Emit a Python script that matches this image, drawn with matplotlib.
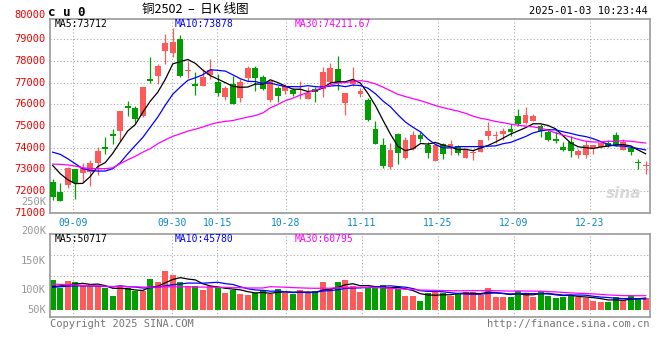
import numpy as np
import pandas as pd
import matplotlib
matplotlib.use("Agg")
import matplotlib.pyplot as plt

# ---- daily candles, cu0 (80 sessions, 2024-09-04 .. 2025-01-03) ----
opens = [72400, 71950, 72290, 73030, 72840, 72870, 73300, 74030, 74640, 74760,
         75930, 75820, 75450, 77150, 77320, 78460, 78350, 78990, 77520, 76940,
         76830, 77350, 77020, 76330, 76940, 76290, 77200, 77660, 77250, 76200,
         76760, 76600, 76680, 76650, 76250, 76710, 76710, 77020, 77610, 76050,
         76940, 76480, 76200, 74850, 74120, 73120, 74620, 73520, 73930, 74580,
         74130, 73380, 74160, 74030, 74070, 73530, 73750, 73810, 74520, 74520,
         74610, 74850, 75450, 75130, 75220, 74990, 74720, 74420, 74030, 74240,
         73670, 73670, 73990, 74030, 74210, 74560, 73900, 73980, 73320, 73150]
highs = [72540, 72370, 73100, 73030, 73290, 73410, 74030, 74490, 74870, 75680,
         76140, 75910, 76790, 78170, 77860, 79240, 79500, 79180, 77980, 77480,
         77630, 78070, 77400, 76860, 77320, 77170, 77770, 77780, 77350, 77090,
         76860, 76940, 76760, 77050, 76790, 76790, 77710, 77890, 78210, 76510,
         77740, 76740, 76280, 75210, 74440, 74210, 74670, 74490, 74790, 74720,
         74240, 74180, 74220, 74360, 74130, 73930, 73920, 74330, 75160, 74790,
         74910, 75100, 75770, 75870, 75560, 75070, 74870, 74790, 74260, 74550,
         73950, 74300, 74100, 74240, 74330, 74720, 74390, 74060, 73490, 73380]
lows = [71600, 71530, 72140, 71650, 72410, 72230, 72720, 73720, 74180, 74300,
        75440, 75130, 75410, 77000, 76940, 77860, 78200, 77250, 77200, 76430,
        76830, 77170, 76400, 76200, 75990, 76110, 77090, 76630, 76680, 76100,
        76100, 76480, 76360, 76250, 76250, 76100, 76330, 76940, 76660, 75510,
        76860, 76330, 75220, 74160, 73070, 73010, 73260, 73490, 73900, 74260,
        73530, 73380, 73490, 73640, 73670, 73500, 73440, 73790, 74330, 74210,
        74330, 74520, 74990, 75070, 75220, 74490, 74300, 74210, 73840, 73560,
        73530, 73520, 73720, 73990, 74030, 74060, 73900, 73640, 73030, 72770]
closes = [71720, 71530, 73060, 72380, 73070, 73300, 73840, 73960, 74520, 75680,
          75850, 75300, 76790, 77090, 77750, 78810, 78870, 77310, 77580, 76860,
          77250, 77600, 76510, 76760, 76020, 77020, 77660, 77200, 76710, 77050,
          76370, 76860, 76480, 76710, 76510, 76560, 77480, 77660, 76970, 76510,
          77120, 76600, 75280, 74160, 73170, 73890, 73760, 74330, 74580, 74390,
          73760, 74130, 73720, 74160, 73760, 73870, 73780, 74330, 74760, 74550,
          74760, 74720, 75070, 75500, 75450, 74760, 74330, 74300, 73870, 73840,
          73860, 74130, 74100, 74210, 74060, 74100, 74240, 73790, 73270, 73180]
# volume in K lots (as read on the panel's own scale)
volumes = [117.8, 105.3, 116.2, 114.0, 108.3, 108.3, 108.3, 103.7, 91.7, 107.8,
           104.0, 98.7, 99.5, 119.5, 115.0, 133.2, 126.2, 115.0, 107.8, 107.8,
           101.2, 107.8, 106.7, 96.7, 101.2, 94.5, 92.8, 95.7, 101.2, 94.0,
           102.8, 95.7, 94.0, 101.2, 95.7, 99.5, 115.0, 102.3, 115.0, 117.8,
           107.8, 98.3, 104.0, 105.7, 109.5, 105.7, 102.8, 91.7, 91.7, 82.8,
           95.7, 100.0, 95.7, 91.7, 94.0, 98.3, 98.3, 92.8, 105.0, 90.0,
           90.0, 90.0, 100.0, 95.7, 90.0, 100.0, 91.7, 88.3, 90.0, 92.8,
           89.0, 87.3, 83.3, 81.7, 81.7, 89.0, 84.5, 91.7, 85.7, 87.3]
vol_base = 67.0

# moving-average values before enough history is on screen
ma5_head = [73180, 72800, 72520, 72340]
ma10_head = [73790, 73690, 73490, 73260, 73030, 72950, 72920, 72920, 73030]
ma30_head = [73240, 73230, 73200, 73150, 73070, 73040, 73030, 73030, 73070, 73260,
             73440, 73600, 73790, 73950, 74180, 74360, 74520, 74640, 74760, 74850,
             74950, 75070, 75160, 75210, 75250, 75330, 75410, 75480, 75600]
vma5_head = [107, 108, 110, 111]
vma10_head = [105.5, 106.5, 107.5, 108, 108, 108, 107.5, 107, 106.5]
vma30_head = [111, 110.5, 110, 109.5, 109, 108.5, 108, 107.5, 107, 107,
              106.5, 106.5, 106, 106, 106, 106.5, 106.5, 106.5, 106.5, 106,
              106, 106, 105.5, 105.5, 105, 105, 104.5, 104.5, 104.5]

date_ticks = [2.66, 15.85, 21.93, 31.04, 41.17, 51.29, 61.42, 71.54]
date_labels = ['09-09', '09-30', '10-15', '10-28', '11-11', '11-25', '12-09', '12-23']
price_ticks = [71000, 72000, 73000, 74000, 75000, 76000, 77000, 78000, 79000]


def moving_avg(vals, n, head):
    s = pd.Series(vals, dtype=float).rolling(n).mean().to_numpy()
    s[:len(head)] = head
    return s


W, H = 660, 360
UP, DOWN = '#ff5a5a', '#009e00'
GRID = '#aaaaaa'
FRAME = '#999999'
MONO = 'DejaVu Sans Mono'

fig = plt.figure(figsize=(W / 100, H / 100), dpi=100)
fig.patch.set_facecolor('white')


def ftext(x, y, s, **kw):
    kw.setdefault('family', MONO)
    kw.setdefault('fontsize', 7)
    kw.setdefault('va', 'center')
    fig.text(x / W, 1 - y / H, s, **kw)


def frame(ax):
    for sp in ax.spines.values():
        sp.set_color(FRAME)
        sp.set_linewidth(1.2)
    ax.tick_params(length=0)


x = np.arange(len(closes))
o = np.array(opens); c = np.array(closes)
hi = np.array(highs); lo = np.array(lows)
colors = np.where(c >= o, UP, DOWN)

# ---- price panel ----
ax = fig.add_axes([50 / W, 1 - 212.7 / H, 600 / W, (212.7 - 18.5) / H])
frame(ax)
ax.set_xlim(-0.36, 79.58)
ax.set_ylim(71000, 79954)
ax.set_yticks(price_ticks)
ax.set_yticklabels([])
ax.set_xticks(date_ticks)
ax.set_xticklabels(date_labels, color='#0a86d0', family=MONO, fontsize=7)
ax.tick_params(axis='x', pad=4)
ax.grid(True, linestyle=(0, (1, 2)), color=GRID, linewidth=0.8)
ax.set_axisbelow(True)

ax.vlines(x, lo, hi, colors=colors, linewidth=0.9, zorder=2)
body_lo = np.minimum(o, c)
body_h = np.maximum(np.abs(c - o), 45)
ax.bar(x, body_h, bottom=body_lo, width=0.78, color=colors, linewidth=0, zorder=3)

ax.plot(x, moving_avg(closes, 5, ma5_head), color='black', lw=0.9, zorder=4)
ax.plot(x, moving_avg(closes, 10, ma10_head), color='#0000ff', lw=0.9, zorder=4)
ax.plot(x, moving_avg(closes, 30, ma30_head), color='#ff00ff', lw=0.9, zorder=4)

for v in price_ticks:
    ax.text(-0.007, v, str(v), transform=ax.get_yaxis_transform(), ha='right',
            va='center', color='#ee0000', family=MONO, fontsize=7.5)
ax.text(0.985, 0.1, 'sina', transform=ax.transAxes, ha='right', va='center',
        color='#d8d8d8', fontsize=11, fontweight='bold', style='italic')

# ---- volume panel ----
av = fig.add_axes([50 / W, 1 - 317.2 / H, 600 / W, (317.2 - 234.3) / H])
frame(av)
av.set_xlim(-0.36, 79.58)
av.set_ylim(55.8, 194)
av.set_xticks(date_ticks)
av.set_xticklabels([])
av.set_yticks([125, 159.5])
av.set_yticklabels([])
av.grid(True, linestyle=(0, (1, 2)), color=GRID, linewidth=0.8)
av.set_axisbelow(True)
av.bar(x, np.array(volumes) - vol_base, bottom=vol_base, width=0.8,
       color=colors, linewidth=0, zorder=2)
av.plot(x, moving_avg(volumes, 5, vma5_head), color='black', lw=0.9, zorder=3)
av.plot(x, moving_avg(volumes, 10, vma10_head), color='#0000ff', lw=0.9, zorder=3)
av.plot(x, moving_avg(volumes, 30, vma30_head), color='#ff00ff', lw=0.9, zorder=3)

for lab, y in [('200K', 230.7), ('150K', 261), ('100K', 290), ('50K', 310)]:
    ftext(46, y, lab, ha='right', color='#999999', fontsize=7.5)

# ---- header / footer text ----
ftext(46, 15, '80000', ha='right', color='#ee0000', fontsize=7.5)
ftext(46, 201.7, '250K', ha='right', color='#999999', fontsize=7.5)
ftext(48, 12, 'c u 0', ha='left', fontsize=9, fontweight='bold')
ftext(195, 9.5, '铜2502  –  日K 线图', ha='center', fontsize=9,
      family=['Noto Sans CJK SC', 'DejaVu Sans'])
ftext(648, 11.5, '2025-01-03 10:23:44', ha='right', color='black', fontsize=7.5)

ftext(55, 24, 'MA5:73712', color='black')
ftext(175, 24, 'MA10:73878', color='#0000ff')
ftext(295, 24, 'MA30:74211.67', color='#ff00ff')
ftext(55, 238.5, 'MA5:50717', color='black')
ftext(175, 238.5, 'MA10:45780', color='#0000ff')
ftext(295, 238.5, 'MA30:60795', color='#ff00ff')

ftext(50, 324, 'Copyright 2025 SINA.COM', ha='left', color='#777777', fontsize=7.5)
ftext(649, 324, 'http://finance.sina.com.cn', ha='right', color='#777777', fontsize=7.5)

fig.savefig('out.png', dpi=100, facecolor='white')
